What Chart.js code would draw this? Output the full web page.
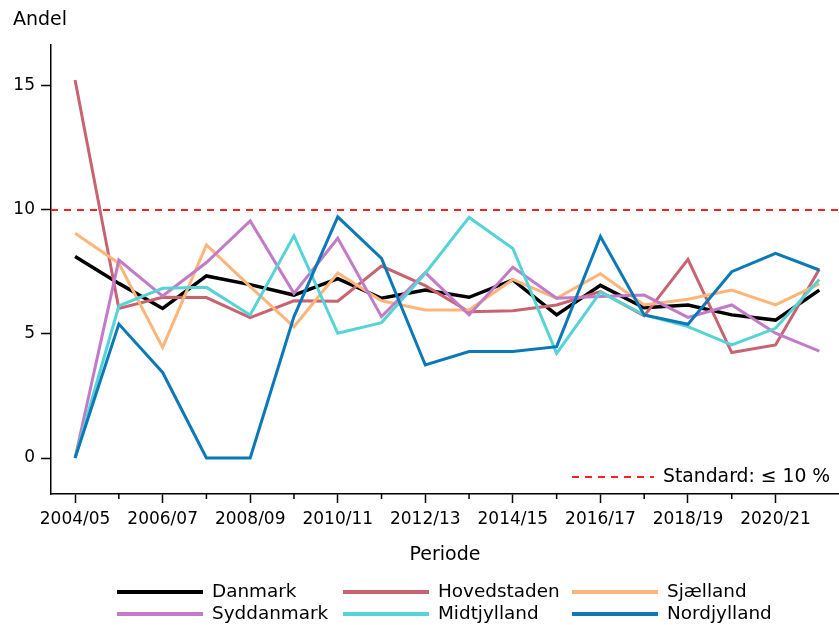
<!DOCTYPE html>
<html>
<head>
<meta charset="utf-8">
<script src="https://cdn.jsdelivr.net/npm/chart.js@4.4.1/dist/chart.umd.min.js"></script>
<style>
  body { margin: 0; background: #fff; }
  #wrap { width: 839px; height: 625px; position: relative; }
</style>
</head>
<body>
<div id="wrap"><canvas id="grafico"></canvas></div>
<script>
// periods on the x axis
var periods = ["2004/05", "2005/06", "2006/07", "2007/08", "2008/09", "2009/10", "2010/11", "2011/12", "2012/13",
  "2013/14", "2014/15", "2015/16", "2016/17", "2017/18", "2018/19", "2019/20", "2020/21", "2021/22"];

var danmark     = [8.12, 7.04, 6.03, 7.34, 6.99, 6.57, 7.23, 6.44, 6.77, 6.48, 7.18, 5.77, 6.96, 6.06, 6.17, 5.77, 5.56, 6.77];
var hovedstaden = [15.24, 6.03, 6.48, 6.47, 5.66, 6.34, 6.32, 7.74, 6.95, 5.90, 5.94, 6.17, 6.71, 5.73, 8.01, 4.25, 4.56, 7.61];
var sjaelland   = [9.06, 7.85, 4.46, 8.59, 6.91, 5.29, 7.46, 6.34, 5.97, 5.97, 7.20, 6.44, 7.43, 6.17, 6.40, 6.77, 6.17, 7.02];
var syddanmark  = [0, 7.98, 6.53, 7.88, 9.56, 6.64, 8.86, 5.70, 7.47, 5.77, 7.69, 6.44, 6.51, 6.57, 5.67, 6.17, 5.03, 4.31];
var midtjylland = [0, 6.13, 6.84, 6.88, 5.77, 8.96, 5.03, 5.46, 7.45, 9.70, 8.45, 4.22, 6.69, 5.77, 5.30, 4.56, 5.23, 7.20];
var nordjylland = [0, 5.40, 3.45, 0, 0, 5.70, 9.72, 8.05, 3.75, 4.29, 4.29, 4.49, 8.93, 5.77, 5.39, 7.51, 8.25, 7.58];

var yTicks = [0, 5, 10, 15];
var standard = 10;
var standardLabel = "Standard: \u2264 10 %";

var names = ["Danmark", "Hovedstaden", "Sjælland", "Syddanmark", "Midtjylland", "Nordjylland"];
var colors = ["#000000", "#c8636f", "#fdb57a", "#c27bc8", "#55d3d6", "#0b79b8"];
var series = [danmark, hovedstaden, sjaelland, syddanmark, midtjylland, nordjylland];

var FONT = "'DejaVu Sans', sans-serif";

function toPoints(arr) {
  var out = [];
  for (var i = 0; i < arr.length; i++) {
    out.push({ x: i, y: arr[i] });
  }
  return out;
}

var datasets = [];
for (var i = 0; i < series.length; i++) {
  datasets.push({
    label: names[i],
    data: toPoints(series[i]),
    borderColor: colors[i],
    backgroundColor: colors[i],
    borderWidth: i == 0 ? 3.5 : 3,
    pointRadius: 0,
    tension: 0,
    order: series.length - i
  });
}

// draws the standard line, minor ticks, titles and legend
var extras = {
  id: "extras",
  beforeDatasetsDraw: function(chart) {
    var ctx = chart.ctx;
    var area = chart.chartArea;
    var y = chart.scales.y.getPixelForValue(standard);
    ctx.save();
    ctx.strokeStyle = "#ff2020";
    ctx.lineWidth = 2;
    ctx.setLineDash([7, 6]);
    ctx.beginPath();
    ctx.moveTo(area.left, y);
    ctx.lineTo(area.right, y);
    ctx.stroke();
    ctx.restore();
  },
  afterDraw: function(chart) {
    var ctx = chart.ctx;
    var area = chart.chartArea;
    var xs = chart.scales.x;
    ctx.save();
    // minor ticks (none after the last labelled period)
    ctx.strokeStyle = "#000";
    ctx.lineWidth = 1.5;
    for (var i = 1; i < periods.length - 1; i += 2) {
      var px = xs.getPixelForValue(i);
      ctx.beginPath();
      ctx.moveTo(px, area.bottom);
      ctx.lineTo(px, area.bottom + 5);
      ctx.stroke();
    }
    // titles
    ctx.fillStyle = "#000";
    ctx.font = "19px " + FONT;
    ctx.textBaseline = "middle";
    ctx.textAlign = "left";
    ctx.fillText("Andel", 13, 20);
    ctx.textAlign = "center";
    ctx.fillText("Periode", (area.left + area.right) / 2, 555);

    // standard legend inside the plot
    ctx.font = "18.8px " + FONT;
    ctx.textAlign = "left";
    ctx.strokeStyle = "#ff2020";
    ctx.lineWidth = 2;
    ctx.setLineDash([7, 6]);
    ctx.beginPath();
    ctx.moveTo(572, 477);
    ctx.lineTo(654, 477);
    ctx.stroke();
    ctx.setLineDash([]);
    ctx.fillText(standardLabel, 663, 477);

    // series legend, 3 columns
    var colX = [117, 343, 572];
    var rowY = [592, 614];
    ctx.font = "18.4px " + FONT;
    chart.data.datasets.forEach(function(ds, k) {
      var cx = colX[k % 3];
      var cy = rowY[Math.floor(k / 3)];
      ctx.strokeStyle = ds.borderColor;
      ctx.lineWidth = 4;
      ctx.beginPath();
      ctx.moveTo(cx, cy);
      ctx.lineTo(cx + 86, cy);
      ctx.stroke();
      ctx.fillStyle = "#000";
      ctx.fillText(ds.label, cx + 95, cy);
    });
    ctx.restore();
  }
};

var canvas = document.getElementById("grafico");
var graph = new Chart(canvas, {
  type: "line",
  data: { datasets: datasets },
  options: {
    responsive: true,
    maintainAspectRatio: false,
    animation: false,
    layout: { padding: { top: 45, left: 0, right: 0, bottom: 0 } },
    plugins: {
      legend: { display: false },
      tooltip: { enabled: false }
    },
    scales: {
      x: {
        type: "linear",
        min: -0.55,
        max: 17.45,
        afterBuildTicks: function(scale) {
          scale.ticks = periods.map(function(p, i) { return { value: i }; });
        },
        afterFit: function(scale) { scale.height = 131; },
        ticks: {
          autoSkip: false,
          maxRotation: 0,
          padding: 6,
          color: "#000",
          font: { family: FONT, size: 17 },
          callback: function(v) { return v % 2 == 0 ? periods[v] : ""; }
        },
        grid: {
          drawOnChartArea: false,
          tickLength: 9,
          tickWidth: 1.5,
          tickColor: function(c) { return c.tick && c.tick.value % 2 == 0 ? "#000" : "rgba(0,0,0,0)"; }
        },
        border: { display: true, color: "#000", width: 1.5 }
      },
      y: {
        min: -1.45,
        max: 16.65,
        afterBuildTicks: function(scale) {
          scale.ticks = yTicks.map(function(v) { return { value: v }; });
        },
        afterFit: function(scale) { scale.width = 51; },
        ticks: {
          padding: 6,
          color: "#000",
          font: { family: FONT, size: 17 }
        },
        grid: {
          drawOnChartArea: false,
          tickLength: 10,
          tickWidth: 1.5,
          tickColor: "#000"
        },
        border: { display: true, color: "#000", width: 1.5 }
      }
    }
  },
  plugins: [extras]
});
</script>
</body>
</html>
